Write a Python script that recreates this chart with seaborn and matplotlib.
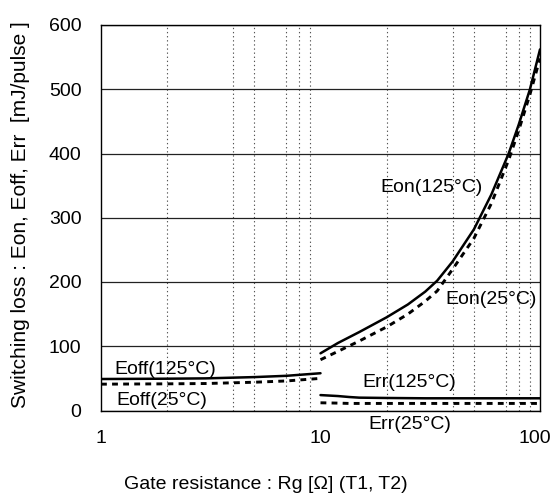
import matplotlib
matplotlib.use("Agg")
import matplotlib.pyplot as plt
import matplotlib.ticker as mticker
import matplotlib.transforms as mtransforms
import seaborn as sns

# ---- data ----
rg_off = [1, 2, 3, 5, 7, 10]
eoff_125 = [49, 49.5, 50, 52, 54, 58]
eoff_25 = [41, 41.5, 42, 44, 46, 50]

rg_on = [10, 12, 15, 20, 25, 30, 34, 40, 50, 60, 72, 80, 90, 100]
eon_125 = [89, 105, 122, 145, 165, 185, 202, 232, 282, 336, 400, 445, 500, 562]
eon_25 = [79, 92, 108, 130, 150, 170, 186, 220, 268, 322, 390, 436, 492, 548]

rg_err = [10, 12, 13.5, 15, 20, 30, 50, 70, 100]
err_125 = [24, 22.5, 21, 20, 19.5, 19, 19, 19, 19]
err_25 = [12, 11.5, 11, 11, 11, 11, 11, 11, 11]

x_ticks = [1, 10, 100]
x_tick_labels = ["1", "10", "100"]
x_minor_grid = [2, 4, 5, 7, 8, 9, 10, 20, 40, 50, 70, 80, 90]
y_ticks = [0, 100, 200, 300, 400, 500, 600]

labels = ["Eon(125°C)", "Eon(25°C)", "Eoff(125°C)", "Eoff(25°C)", "Err(125°C)", "Err(25°C)"]
label_x = [32.0, 60.1, 1.96, 1.90, 25.4, 25.4]
label_y = [347, 172, 64, 16, 43, -22]

xlabel = "Gate resistance : Rg [Ω] (T1, T2)"
ylabel = "Switching loss : Eon, Eoff, Err  [mJ/pulse ]"

# ---- style ----
sns.set_theme(style="white")
plt.rcParams["font.family"] = ["Liberation Sans", "DejaVu Sans"]

fig = plt.figure(figsize=(5.53, 5.0), dpi=100)
ax = fig.add_axes([101 / 553, (500 - 410.5) / 500, (540 - 101) / 553, (410.5 - 25) / 500])

solid = dict(color="black", linewidth=1.8)
dashed = dict(color="black", linewidth=2.1, linestyle=(0, (2.0, 1.8)))

sns.lineplot(x=rg_off, y=eoff_125, ax=ax, **solid)
sns.lineplot(x=rg_off, y=eoff_25, ax=ax, **dashed)
sns.lineplot(x=rg_on, y=eon_125, ax=ax, **solid)
sns.lineplot(x=rg_on, y=eon_25, ax=ax, **dashed)
sns.lineplot(x=rg_err, y=err_125, ax=ax, **solid)
sns.lineplot(x=rg_err, y=err_25, ax=ax, **dashed)

ax.set_xscale("log")
ax.set_xlim(1, 100)
ax.set_ylim(0, 600)

ax.xaxis.set_major_locator(mticker.FixedLocator(x_ticks))
ax.xaxis.set_major_formatter(mticker.FixedFormatter(x_tick_labels))
ax.xaxis.set_minor_locator(mticker.FixedLocator(x_minor_grid))
ax.xaxis.set_minor_formatter(mticker.NullFormatter())
ax.yaxis.set_major_locator(mticker.FixedLocator(y_ticks))
ax.yaxis.set_minor_locator(mticker.MultipleLocator(20))

ax.tick_params(axis="both", which="major", direction="in", length=4, width=0.8,
               labelsize=14, pad=14, colors="black")
ax.tick_params(axis="both", which="minor", direction="in", length=2.5, width=0.6)
ax.tick_params(axis="x", which="major", length=0)

ax.grid(False)
ax.yaxis.grid(True, which="major", color="#222222", linewidth=0.9, linestyle="-")
ax.xaxis.grid(True, which="minor", color="#555555", linewidth=0.8, linestyle=(0, (1.2, 2.5)))
ax.set_axisbelow(True)

for s in ax.spines.values():
    s.set_color("black")
    s.set_linewidth(1.0)

for t, lx, ly in zip(labels, label_x, label_y):
    ax.text(lx, ly, t, ha="center", va="center", fontsize=14, color="black",
            clip_on=False)

ax.set_xlabel(xlabel, fontsize=14, color="black")
ax.set_ylabel(ylabel, fontsize=15, color="black")
ax.xaxis.set_label_coords((266 - 101) / 439, (410.5 - 476) / 385.5)
ax.yaxis.set_label_coords((30 - 101) / 439, (410.5 - 215) / 385.5)

fig.canvas.draw()
last = ax.get_xticklabels()[-1]
last.set_transform(last.get_transform() + mtransforms.ScaledTranslation(-5 / 100, 0, fig.dpi_scale_trans))

fig.savefig("out.png", dpi=100, facecolor="white")
